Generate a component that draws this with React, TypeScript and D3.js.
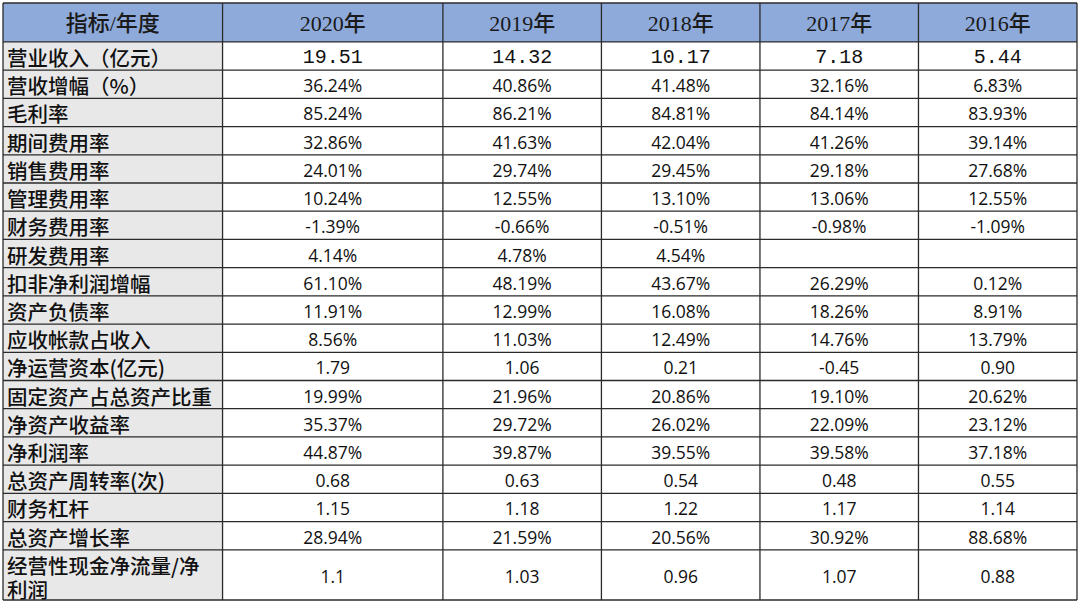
import React, { useEffect, useRef } from "react";
import * as d3 from "d3";

const years = ["2020年", "2019年", "2018年", "2017年", "2016年"];
const headerLabel = "指标/年度";

const indicators = [
  "营业收入（亿元）",
  "营收增幅（%）",
  "毛利率",
  "期间费用率",
  "销售费用率",
  "管理费用率",
  "财务费用率",
  "研发费用率",
  "扣非净利润增幅",
  "资产负债率",
  "应收帐款占收入",
  "净运营资本(亿元)",
  "固定资产占总资产比重",
  "净资产收益率",
  "净利润率",
  "总资产周转率(次)",
  "财务杠杆",
  "总资产增长率",
  "经营性现金净流量/净利润",
];

// one list per year column, same order as indicators
const v2020 = ["19.51", "36.24%", "85.24%", "32.86%", "24.01%", "10.24%", "-1.39%", "4.14%", "61.10%", "11.91%", "8.56%", "1.79", "19.99%", "35.37%", "44.87%", "0.68", "1.15", "28.94%", "1.1"];
const v2019 = ["14.32", "40.86%", "86.21%", "41.63%", "29.74%", "12.55%", "-0.66%", "4.78%", "48.19%", "12.99%", "11.03%", "1.06", "21.96%", "29.72%", "39.87%", "0.63", "1.18", "21.59%", "1.03"];
const v2018 = ["10.17", "41.48%", "84.81%", "42.04%", "29.45%", "13.10%", "-0.51%", "4.54%", "43.67%", "16.08%", "12.49%", "0.21", "20.86%", "26.02%", "39.55%", "0.54", "1.22", "20.56%", "0.96"];
const v2017 = ["7.18", "32.16%", "84.14%", "41.26%", "29.18%", "13.06%", "-0.98%", "", "26.29%", "18.26%", "14.76%", "-0.45", "19.10%", "22.09%", "39.58%", "0.48", "1.17", "30.92%", "1.07"];
const v2016 = ["5.44", "6.83%", "83.93%", "39.14%", "27.68%", "12.55%", "-1.09%", "", "0.12%", "8.91%", "13.79%", "0.90", "20.62%", "23.12%", "37.18%", "0.55", "1.14", "88.68%", "0.88"];
const columns = [v2020, v2019, v2018, v2017, v2016];

// relative sizes
const colWeights = [1.385, 1.39, 1, 1, 1, 1];
const rowWeights = [1.38, ...indicators.map((d, i) => (i === indicators.length - 1 ? 1.78 : 1))];

export default function App() {
  const ref = useRef<SVGSVGElement>(null);

  useEffect(() => {
    const svg = d3.select(ref.current);
    svg.selectAll("*").remove();

    const left = 3, right = 1077, top = 3, bottom = 600;

    const colCum = [0, ...d3.cumsum(colWeights)];
    const rowCum = [0, ...d3.cumsum(rowWeights)];
    const x = d3.scaleLinear().domain([0, colCum[colCum.length - 1]]).range([left, right]);
    const y = d3.scaleLinear().domain([0, rowCum[rowCum.length - 1]]).range([top, bottom]);

    const cx = (i: number) => x(colCum[i]);
    const cy = (j: number) => y(rowCum[j]);

    // backgrounds
    svg.append("rect")
      .attr("x", left).attr("y", top)
      .attr("width", right - left).attr("height", cy(1) - top)
      .attr("fill", "#8eaadb");

    svg.append("rect")
      .attr("x", left).attr("y", cy(1))
      .attr("width", cx(1) - left).attr("height", bottom - cy(1))
      .attr("fill", "#e8e8e8");

    // header text
    svg.append("g").selectAll("text")
      .data([headerLabel, ...years])
      .join("text")
      .attr("x", (d, i) => (cx(i) + cx(i + 1)) / 2)
      .attr("y", (cy(0) + cy(1)) / 2 + 1)
      .attr("text-anchor", "middle")
      .attr("dominant-baseline", "central")
      .attr("font-family", "'Liberation Serif', 'Noto Sans CJK SC', serif")
      .attr("font-size", 22)
      .attr("font-weight", 500)
      .attr("fill", "#1a1a1a")
      .text(d => d);

    // label column
    svg.append("g").selectAll("text")
      .data(indicators)
      .join("text")
      .attr("x", left + 4)
      .attr("y", (d, j) => (cy(j + 1) + cy(j + 2)) / 2 + 1)
      .attr("dominant-baseline", "central")
      .attr("font-family", "'Noto Sans CJK SC', sans-serif")
      .attr("font-size", 20.5)
      .attr("font-weight", 500)
      .attr("fill", "#111")
      .each(function (d, j) {
        const t = d3.select(this);
        if (j === indicators.length - 1) {
          const mid = (cy(j + 1) + cy(j + 2)) / 2;
          t.attr("y", null);
          t.append("tspan").attr("x", left + 4).attr("y", mid - 10).text(d.slice(0, 10));
          t.append("tspan").attr("x", left + 4).attr("y", mid + 14).text(d.slice(10));
        } else {
          t.text(d);
        }
      });

    // values
    columns.forEach((vals, c) => {
      svg.append("g").selectAll("text")
        .data(vals)
        .join("text")
        .attr("x", (cx(c + 1) + cx(c + 2)) / 2)
        .attr("y", (d, j) => (cy(j + 1) + cy(j + 2)) / 2 + 1)
        .attr("text-anchor", "middle")
        .attr("dominant-baseline", "central")
        .attr("font-family", (d, j) => (j === 0 ? "'Liberation Mono', monospace" : "'Open Sans', sans-serif"))
        .attr("font-size", (d, j) => (j === 0 ? 20 : 17.5))
        .attr("font-weight", (d, j) => (j === 0 ? 500 : 400))
        .attr("fill", "#111")
        .text(d => d);
    });

    // grid lines
    const grid = svg.append("g").attr("stroke", "#2b2b2b").attr("stroke-width", 1.3);
    grid.selectAll("line.h")
      .data(rowCum)
      .join("line")
      .attr("class", "h")
      .attr("x1", left).attr("x2", right)
      .attr("y1", d => y(d)).attr("y2", d => y(d));
    grid.selectAll("line.v")
      .data(colCum)
      .join("line")
      .attr("class", "v")
      .attr("y1", top).attr("y2", bottom)
      .attr("x1", d => x(d)).attr("x2", d => x(d));
  }, []);

  return (
    <div style={{ position: "fixed", left: 0, top: 0, background: "#fff" }}>
      <svg ref={ref} width={1080} height={605} style={{ display: "block" }} />
    </div>
  );
}
